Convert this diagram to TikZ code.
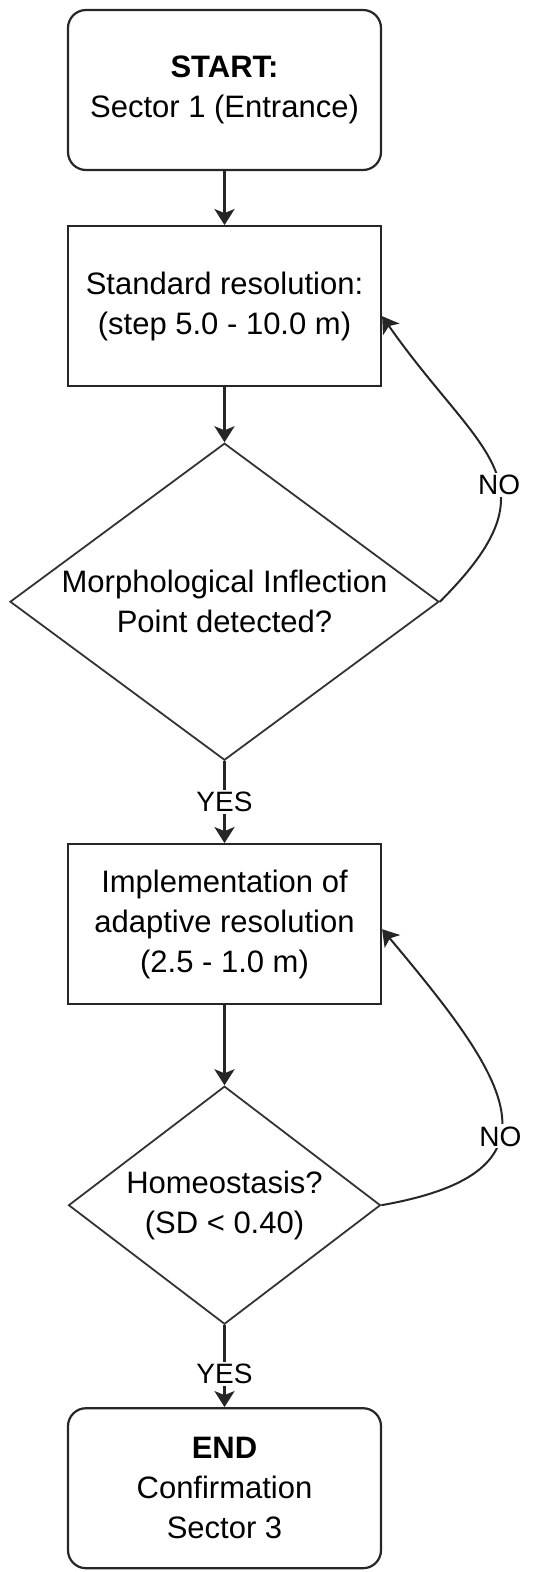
\documentclass[tikz,border=0pt]{standalone}
\usepackage{fontspec}
\setmainfont{Liberation Sans}
\usetikzlibrary{positioning}
\usetikzlibrary{shapes.geometric}
\usetikzlibrary{arrows.meta}

\begin{document}
\begin{tikzpicture}[x=1pt, y=1pt]
% Styles:
\tikzset{terminal/.style={draw=black!85, line width=2.2pt, rounded corners=18pt, minimum width=313pt, minimum height=160pt, align=center, font=\fontsize{31}{40}\selectfont}}
\tikzset{process/.style={terminal, rounded corners=0pt}}
\tikzset{decision/.style={draw=black!80, line width=1.8pt, diamond, aspect=1.35, inner sep=0pt, align=center, font=\fontsize{31}{40}\selectfont}}
\tikzset{flow/.style={line width=3pt, draw=black!85, -{Stealth[length=16pt, width=20pt, inset=4pt]}}}
\tikzset{back/.style={flow, line width=2pt}}
\tikzset{answer/.style={fill=white, inner sep=2pt, font=\fontsize{28}{30}\selectfont}}

\useasboundingbox (0,0) rectangle (550,-1572);

% Main nodes:
\node[terminal] (start) at (224.5,-90) {\textbf{START:}\\Sector 1 (Entrance)};
\node[process]  (std)   [below = 54pt of start] {Standard resolution:\\(step 5.0 - 10.0 m)};
\node[decision, minimum width=429pt, minimum height=317pt] (infl) [below = 55pt of std] {Morphological Inflection\\Point detected?};
\node[process]  (adapt) [below = 82pt of infl] {Implementation of\\adaptive resolution\\(2.5 - 1.0 m)};
\node[decision, minimum width=312pt, minimum height=238pt] (homeo) [below = 80pt of adapt] {Homeostasis?\\(SD < 0.40)};
\node[terminal] (stop)  [below = 82pt of homeo] {\textbf{END}\\Confirmation\\Sector 3};

% Connectors:
\draw[flow] (start) -- (std);
\draw[flow] (std) -- (infl);
\draw[flow] (infl) -- node[answer] {YES} (adapt);
\draw[flow] (adapt) -- (homeo);
\draw[flow] (homeo) -- node[answer, pos=0.6] {YES} (stop);

% Loops back:
\draw[back] (infl.east) to[out=45, in=-55, looseness=1.5] node[answer, pos=0.42] {NO} ([yshift=-10pt]std.east);
\draw[back] (homeo.east) to[out=10, in=-50, looseness=1.8] node[answer, pos=0.4] {NO} ([yshift=-5pt]adapt.east);
\end{tikzpicture}
\end{document}
